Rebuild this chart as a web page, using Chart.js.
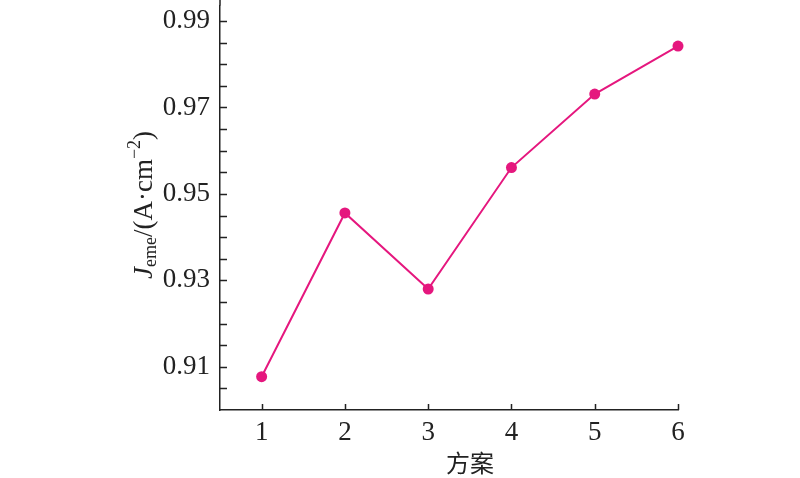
<!DOCTYPE html>
<html>
<head>
<meta charset="utf-8">
<script src="https://cdn.jsdelivr.net/npm/chart.js@4/dist/chart.umd.min.js"></script>
<style>
  html, body { margin: 0; padding: 0; background: #fff; }
  #wrap { width: 800px; height: 478px; position: relative; }
</style>
</head>
<body>
<div id="wrap"><canvas id="chart"></canvas></div>
<script>
const schemes = [1, 2, 3, 4, 5, 6];
const jEme = [0.9077, 0.9456, 0.9280, 0.9561, 0.9731, 0.9842];
const yTicks = [0.905, 0.91, 0.915, 0.92, 0.925, 0.93, 0.935, 0.94, 0.945, 0.95,
  0.955, 0.96, 0.965, 0.97, 0.975, 0.98, 0.985, 0.99];
const xTitle = '方案';

const SERIF = '"Liberation Serif", "Times New Roman", serif';
const AXIS = '#222';
const PINK = '#e5177e';

// inward tick marks and the y title with sub/superscript
const decorations = {
  id: 'decorations',
  afterDraw(chart) {
    const { ctx, chartArea, scales } = chart;
    ctx.save();
    ctx.strokeStyle = AXIS;
    ctx.lineWidth = 1.5;
    ctx.beginPath();
    // axis runs up to the top edge in the original
    ctx.moveTo(chartArea.left, 0);
    ctx.lineTo(chartArea.left, chartArea.top);
    yTicks.forEach((v) => {
      const y = Math.round(scales.y.getPixelForValue(v)) + 0.5;
      ctx.moveTo(chartArea.left, y);
      ctx.lineTo(chartArea.left + 7, y);
    });
    schemes.forEach((v) => {
      const x = Math.round(scales.x.getPixelForValue(v)) + 0.5;
      ctx.moveTo(x, chartArea.bottom);
      ctx.lineTo(x, chartArea.bottom - 6);
    });
    ctx.stroke();

    // x title
    ctx.fillStyle = '#222';
    ctx.font = '24px "Noto Sans CJK SC", sans-serif';
    ctx.textAlign = 'center';
    ctx.textBaseline = 'alphabetic';
    ctx.fillText(xTitle, 470, 472);

    // y title: J_eme/(A·cm^-2)
    const parts = [
      { t: 'J', font: 'italic 27px ' + SERIF, dy: 0 },
      { t: 'eme', font: '18px ' + SERIF, dy: 4 },
      { t: '/(A·cm', font: '27px ' + SERIF, dy: 0 },
      { t: '−2', font: '18px ' + SERIF, dy: -12 },
      { t: ')', font: '27px ' + SERIF, dy: 0 },
    ];
    let total = 0;
    parts.forEach((p) => { ctx.font = p.font; p.w = ctx.measureText(p.t).width; total += p.w; });
    ctx.translate(152, 205);
    ctx.rotate(-Math.PI / 2);
    ctx.textAlign = 'left';
    let x = -total / 2;
    parts.forEach((p) => {
      ctx.font = p.font;
      ctx.fillText(p.t, x, p.dy);
      x += p.w;
    });
    ctx.restore();
  },
};

new Chart(document.getElementById('chart'), {
  type: 'line',
  data: {
    datasets: [{
      data: schemes.map((s, i) => ({ x: s, y: jEme[i] })),
      borderColor: PINK,
      backgroundColor: PINK,
      borderWidth: 2,
      pointRadius: 5.5,
      pointHoverRadius: 5.5,
      pointBorderWidth: 0,
      tension: 0,
      clip: false,
    }],
  },
  options: {
    responsive: true,
    maintainAspectRatio: false,
    animation: false,
    layout: { padding: { top: 0, right: 122, bottom: 0, left: 0 } },
    plugins: {
      legend: { display: false },
      tooltip: { enabled: false },
    },
    scales: {
      x: {
        type: 'linear',
        min: 0.5,
        max: 6,
        afterBuildTicks: (s) => { s.ticks = schemes.map((v) => ({ value: v })); },
        afterFit: (s) => { s.height = 68; s.paddingLeft = 0; s.paddingRight = 0; },
        grid: { display: false, drawTicks: false },
        border: { display: true, color: AXIS, width: 1.5 },
        ticks: {
          color: '#222',
          font: { family: SERIF, size: 27 },
          padding: 7,
          maxRotation: 0,
        },
      },
      y: {
        min: 0.9,
        max: 0.9936,
        afterBuildTicks: (s) => { s.ticks = yTicks.map((v) => ({ value: v })); },
        afterFit: (s) => { s.width = 220; s.paddingTop = 0; s.paddingBottom = 0; },
        grid: { display: false, drawTicks: false },
        border: { display: true, color: AXIS, width: 1.5 },
        ticks: {
          color: '#222',
          font: { family: SERIF, size: 27 },
          padding: 10,
          autoSkip: false,
          callback: (v) => (Math.round(v * 1000) % 20 === 10 ? v.toFixed(2) : ''),
        },
      },
    },
  },
  plugins: [decorations],
});
</script>
</body>
</html>
